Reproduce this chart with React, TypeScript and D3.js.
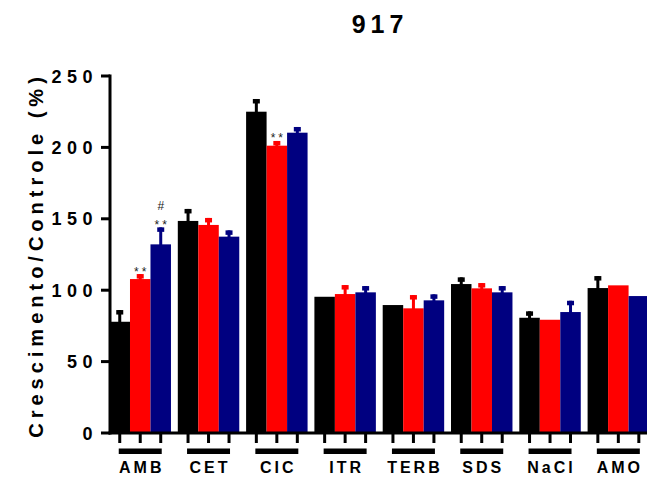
import React from "react";
import * as d3 from "d3";

// Treatment categories along the x axis
const categories = ["AMB", "CET", "CIC", "ITR", "TERB", "SDS", "NaCl", "AMO"];
// Three series per category (black, red, navy)
const seriesKeys = ["s1", "s2", "s3"];
const seriesColors = ["#000000", "#ff0000", "#000080"];

// Mean growth relative to control (%)
const meanS1 = [77.9, 148.5, 225.0, 95.4, 89.6, 104.3, 80.7, 101.5];
const meanS2 = [107.8, 145.7, 201.2, 97.3, 87.3, 101.3, 79.3, 103.4];
const meanS3 = [132.1, 137.5, 210.3, 98.5, 92.9, 98.5, 84.7, 95.9];
// Error (upper) for each bar
const errS1 = [8.2, 8.4, 8.9, 0, 0, 4.7, 4.5, 8.4];
const errS2 = [3.5, 4.9, 3.3, 6.3, 9.3, 3.7, 0, 0];
const errS3 = [11.9, 4.4, 4.0, 4.4, 4.2, 4.4, 7.9, 0];

// Significance marks: [category, series index, label, row]
const marks: [string, number, string, number][] = [
  ["AMB", 1, "**", 0],
  ["AMB", 2, "**", 0],
  ["AMB", 2, "#", 1],
  ["CIC", 1, "**", 0],
];

const yTicks = [0, 50, 100, 150, 200, 250];
const title = "917";
const yLabel = "Crescimento/Controle (%)";

const W = 647;
const H = 478;
const FONT = "'Liberation Sans', Arial, Helvetica, sans-serif";

export default function App() {
  const means = [meanS1, meanS2, meanS3];
  const errs = [errS1, errS2, errS3];

  const y = d3.scaleLinear().domain([0, 250]).range([433, 76]);
  const step = 68.3;
  const x0 = d3
    .scaleBand<string>()
    .domain(categories)
    .range([109.5, 109.5 + step * 7.9])
    .paddingInner(0.1)
    .paddingOuter(0);
  const x1 = d3
    .scaleBand<string>()
    .domain(seriesKeys)
    .range([0, x0.bandwidth()])
    .padding(0);

  const axisX = 110;
  const baseY = y(0);

  return (
    <svg
      width={W}
      height={H}
      viewBox={`0 0 ${W} ${H}`}
      style={{ position: "absolute", left: 0, top: 0, background: "#fff" }}
    >
      <rect x={0} y={0} width={W} height={H} fill="#fff" />
      {/* title */}
      <text
        x={380}
        y={33}
        textAnchor="middle"
        fontFamily={FONT}
        fontWeight="bold"
        fontSize={25}
        letterSpacing={5}
      >
        {title}
      </text>

      {/* y axis label */}
      <text
        transform={`translate(43,255) rotate(-90)`}
        textAnchor="middle"
        fontFamily={FONT}
        fontWeight="bold"
        fontSize={20}
        letterSpacing={5}
      >
        {yLabel}
      </text>

      {/* bars */}
      {categories.map((c, ci) => (
        <g key={c} transform={`translate(${x0(c)},0)`}>
          {seriesKeys.map((k, si) => {
            const v = means[si][ci];
            const e = errs[si][ci];
            const bx = x1(k)!;
            const bw = x1.bandwidth();
            const cx = bx + bw / 2;
            const top = y(v);
            const et = y(v + e);
            return (
              <g key={k}>
                <rect
                  x={bx}
                  y={top}
                  width={bw}
                  height={baseY - top}
                  fill={seriesColors[si]}
                />
                {e > 0 && (
                  <g fill={seriesColors[si]}>
                    <rect x={cx - 1.5} y={et} width={3} height={top - et + 1} />
                    <rect x={cx - 3.5} y={et} width={7} height={4.5} />
                  </g>
                )}
              </g>
            );
          })}
        </g>
      ))}

      {/* significance marks */}
      {marks.map(([c, si, label, row], i) => {
        const ci = categories.indexOf(c);
        const v = means[si][ci] + errs[si][ci];
        const cx = x0(c)! + x1(seriesKeys[si])! + x1.bandwidth() / 2;
        return (
          <text
            key={i}
            x={cx + (label === "**" ? 1.5 : 0)}
            y={row === 0 ? y(v) + 1.5 : y(v) - 17}
            textAnchor="middle"
            fontFamily={FONT}
            fontSize={12}
            letterSpacing={label === "**" ? 3 : 0}
            fill="#222"
          >
            {label}
          </text>
        );
      })}

      {/* y axis */}
      <line
        x1={axisX}
        x2={axisX}
        y1={y(250) - 1.5}
        y2={baseY + 1.5}
        stroke="#000"
        strokeWidth={3}
      />
      {yTicks.map((t) => (
        <g key={t}>
          <line
            x1={axisX - 9}
            x2={axisX}
            y1={y(t)}
            y2={y(t)}
            stroke="#000"
            strokeWidth={3}
          />
          <text
            x={98}
            y={y(t) + 6.5}
            textAnchor="end"
            fontFamily={FONT}
            fontWeight="bold"
            fontSize={18}
            letterSpacing={5.5}
          >
            {t}
          </text>
        </g>
      ))}

      {/* x axis */}
      <line
        x1={axisX - 1.5}
        x2={W}
        y1={baseY}
        y2={baseY}
        stroke="#000"
        strokeWidth={3}
      />
      {categories.map((c) => {
        const gx = x0(c)!;
        const centers = seriesKeys.map((k) => gx + x1(k)! + x1.bandwidth() / 2);
        return (
          <g key={c}>
            {centers.map((cx, i) => (
              <line
                key={i}
                x1={cx}
                x2={cx}
                y1={baseY}
                y2={baseY + 10}
                stroke="#000"
                strokeWidth={3}
              />
            ))}
            <rect
              x={centers[0] - 1}
              y={448.5}
              width={centers[2] - centers[0] + 2}
              height={5.5}
              fill="#000"
            />
            <text
              x={gx + x0.bandwidth() / 2 + 1.5}
              y={472.5}
              textAnchor="middle"
              fontFamily={FONT}
              fontWeight="bold"
              fontSize={16}
              letterSpacing={3}
            >
              {c}
            </text>
          </g>
        );
      })}
    </svg>
  );
}
